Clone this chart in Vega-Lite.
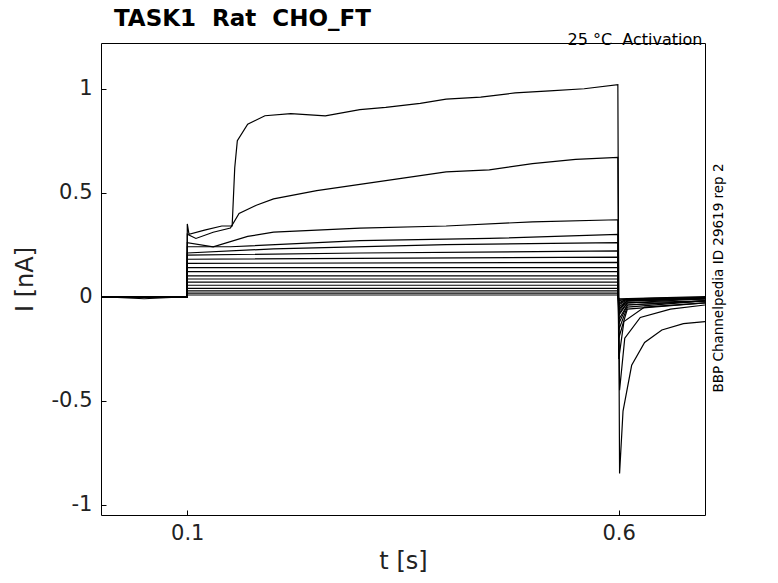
{
  "$schema": "https://vega.github.io/schema/vega-lite/v6.json",
  "width": 604,
  "height": 472,
  "autosize": "none",
  "padding": {"left": 101, "top": 43, "right": 73, "bottom": 68},
  "background": "white",
  "config": {"view": {"stroke": "black", "strokeWidth": 1}},
  "datasets": {
    "traces": [
      {"k": 1, "t": 0, "i": 0}, {"k": 1, "t": 0.05, "i": -0.01}, {"k": 1, "t": 0.0999, "i": 0}, {"k": 1, "t": 0.1, "i": 0.35}, {"k": 1, "t": 0.102, "i": 0.3}, {"k": 1, "t": 0.12, "i": 0.32}, {"k": 1, "t": 0.14, "i": 0.34}, {"k": 1, "t": 0.152, "i": 0.34}, {"k": 1, "t": 0.155, "i": 0.62}, {"k": 1, "t": 0.158, "i": 0.75}, {"k": 1, "t": 0.17, "i": 0.83}, {"k": 1, "t": 0.19, "i": 0.87}, {"k": 1, "t": 0.22, "i": 0.88}, {"k": 1, "t": 0.26, "i": 0.87}, {"k": 1, "t": 0.3, "i": 0.9}, {"k": 1, "t": 0.33, "i": 0.91}, {"k": 1, "t": 0.37, "i": 0.93}, {"k": 1, "t": 0.4, "i": 0.95}, {"k": 1, "t": 0.44, "i": 0.96}, {"k": 1, "t": 0.48, "i": 0.98}, {"k": 1, "t": 0.52, "i": 0.99}, {"k": 1, "t": 0.56, "i": 1.0}, {"k": 1, "t": 0.599, "i": 1.02}, {"k": 1, "t": 0.6, "i": 0.0}, {"k": 1, "t": 0.601, "i": -0.85}, {"k": 1, "t": 0.605, "i": -0.55}, {"k": 1, "t": 0.615, "i": -0.33}, {"k": 1, "t": 0.63, "i": -0.22}, {"k": 1, "t": 0.65, "i": -0.16}, {"k": 1, "t": 0.675, "i": -0.13}, {"k": 1, "t": 0.7, "i": -0.12},
      {"k": 2, "t": 0, "i": 0}, {"k": 2, "t": 0.0999, "i": 0}, {"k": 2, "t": 0.1, "i": 0.3}, {"k": 2, "t": 0.11, "i": 0.28}, {"k": 2, "t": 0.13, "i": 0.31}, {"k": 2, "t": 0.15, "i": 0.33}, {"k": 2, "t": 0.16, "i": 0.4}, {"k": 2, "t": 0.18, "i": 0.44}, {"k": 2, "t": 0.2, "i": 0.47}, {"k": 2, "t": 0.25, "i": 0.51}, {"k": 2, "t": 0.3, "i": 0.54}, {"k": 2, "t": 0.35, "i": 0.57}, {"k": 2, "t": 0.4, "i": 0.6}, {"k": 2, "t": 0.45, "i": 0.61}, {"k": 2, "t": 0.5, "i": 0.64}, {"k": 2, "t": 0.55, "i": 0.66}, {"k": 2, "t": 0.599, "i": 0.67}, {"k": 2, "t": 0.6, "i": 0}, {"k": 2, "t": 0.601, "i": -0.45}, {"k": 2, "t": 0.607, "i": -0.2}, {"k": 2, "t": 0.625, "i": -0.1}, {"k": 2, "t": 0.66, "i": -0.06}, {"k": 2, "t": 0.7, "i": -0.04},
      {"k": 3, "t": 0, "i": 0}, {"k": 3, "t": 0.0999, "i": 0}, {"k": 3, "t": 0.1, "i": 0.26}, {"k": 3, "t": 0.13, "i": 0.24}, {"k": 3, "t": 0.17, "i": 0.29}, {"k": 3, "t": 0.2, "i": 0.31}, {"k": 3, "t": 0.3, "i": 0.33}, {"k": 3, "t": 0.4, "i": 0.34}, {"k": 3, "t": 0.5, "i": 0.36}, {"k": 3, "t": 0.599, "i": 0.37}, {"k": 3, "t": 0.6, "i": -0.3}, {"k": 3, "t": 0.606, "i": -0.12}, {"k": 3, "t": 0.63, "i": -0.05}, {"k": 3, "t": 0.7, "i": -0.03},
      {"k": 4, "t": 0, "i": 0}, {"k": 4, "t": 0.0999, "i": 0}, {"k": 4, "t": 0.1, "i": 0.24}, {"k": 4, "t": 0.15, "i": 0.24}, {"k": 4, "t": 0.3, "i": 0.27}, {"k": 4, "t": 0.45, "i": 0.28}, {"k": 4, "t": 0.599, "i": 0.3}, {"k": 4, "t": 0.6, "i": -0.2}, {"k": 4, "t": 0.61, "i": -0.06}, {"k": 4, "t": 0.7, "i": -0.03},
      {"k": 5, "t": 0, "i": 0}, {"k": 5, "t": 0.0999, "i": 0}, {"k": 5, "t": 0.1, "i": 0.21}, {"k": 5, "t": 0.2, "i": 0.23}, {"k": 5, "t": 0.4, "i": 0.25}, {"k": 5, "t": 0.599, "i": 0.26}, {"k": 5, "t": 0.6, "i": -0.16}, {"k": 5, "t": 0.61, "i": -0.05}, {"k": 5, "t": 0.7, "i": -0.02},
      {"k": 6, "t": 0, "i": 0}, {"k": 6, "t": 0.0999, "i": 0}, {"k": 6, "t": 0.1, "i": 0.2}, {"k": 6, "t": 0.3, "i": 0.21}, {"k": 6, "t": 0.599, "i": 0.22}, {"k": 6, "t": 0.6, "i": -0.13}, {"k": 6, "t": 0.61, "i": -0.04}, {"k": 6, "t": 0.7, "i": -0.02},
      {"k": 7, "t": 0, "i": 0}, {"k": 7, "t": 0.0999, "i": 0}, {"k": 7, "t": 0.1, "i": 0.18}, {"k": 7, "t": 0.599, "i": 0.19}, {"k": 7, "t": 0.6, "i": -0.11}, {"k": 7, "t": 0.61, "i": -0.04}, {"k": 7, "t": 0.7, "i": -0.02},
      {"k": 8, "t": 0, "i": 0}, {"k": 8, "t": 0.0999, "i": 0}, {"k": 8, "t": 0.1, "i": 0.16}, {"k": 8, "t": 0.599, "i": 0.165}, {"k": 8, "t": 0.6, "i": -0.09}, {"k": 8, "t": 0.61, "i": -0.03}, {"k": 8, "t": 0.7, "i": -0.02},
      {"k": 9, "t": 0, "i": 0}, {"k": 9, "t": 0.0999, "i": 0}, {"k": 9, "t": 0.1, "i": 0.14}, {"k": 9, "t": 0.599, "i": 0.14}, {"k": 9, "t": 0.6, "i": -0.08}, {"k": 9, "t": 0.61, "i": -0.03}, {"k": 9, "t": 0.7, "i": -0.01},
      {"k": 10, "t": 0, "i": 0}, {"k": 10, "t": 0.0999, "i": 0}, {"k": 10, "t": 0.1, "i": 0.12}, {"k": 10, "t": 0.599, "i": 0.12}, {"k": 10, "t": 0.6, "i": -0.07}, {"k": 10, "t": 0.61, "i": -0.02}, {"k": 10, "t": 0.7, "i": -0.01},
      {"k": 11, "t": 0, "i": 0}, {"k": 11, "t": 0.0999, "i": 0}, {"k": 11, "t": 0.1, "i": 0.1}, {"k": 11, "t": 0.599, "i": 0.1}, {"k": 11, "t": 0.6, "i": -0.06}, {"k": 11, "t": 0.61, "i": -0.02}, {"k": 11, "t": 0.7, "i": -0.01},
      {"k": 12, "t": 0, "i": 0}, {"k": 12, "t": 0.0999, "i": 0}, {"k": 12, "t": 0.1, "i": 0.085}, {"k": 12, "t": 0.599, "i": 0.085}, {"k": 12, "t": 0.6, "i": -0.05}, {"k": 12, "t": 0.61, "i": -0.02}, {"k": 12, "t": 0.7, "i": -0.01},
      {"k": 13, "t": 0, "i": 0}, {"k": 13, "t": 0.0999, "i": 0}, {"k": 13, "t": 0.1, "i": 0.07}, {"k": 13, "t": 0.599, "i": 0.07}, {"k": 13, "t": 0.6, "i": -0.04}, {"k": 13, "t": 0.61, "i": -0.015}, {"k": 13, "t": 0.7, "i": -0.01},
      {"k": 14, "t": 0, "i": 0}, {"k": 14, "t": 0.0999, "i": 0}, {"k": 14, "t": 0.1, "i": 0.055}, {"k": 14, "t": 0.599, "i": 0.055}, {"k": 14, "t": 0.6, "i": -0.035}, {"k": 14, "t": 0.61, "i": -0.01}, {"k": 14, "t": 0.7, "i": -0.01},
      {"k": 15, "t": 0, "i": 0}, {"k": 15, "t": 0.0999, "i": 0}, {"k": 15, "t": 0.1, "i": 0.04}, {"k": 15, "t": 0.599, "i": 0.04}, {"k": 15, "t": 0.6, "i": -0.03}, {"k": 15, "t": 0.61, "i": -0.01}, {"k": 15, "t": 0.7, "i": -0.005},
      {"k": 16, "t": 0, "i": 0}, {"k": 16, "t": 0.0999, "i": 0}, {"k": 16, "t": 0.1, "i": 0.028}, {"k": 16, "t": 0.599, "i": 0.028}, {"k": 16, "t": 0.6, "i": -0.02}, {"k": 16, "t": 0.61, "i": -0.01}, {"k": 16, "t": 0.7, "i": -0.005},
      {"k": 17, "t": 0, "i": 0}, {"k": 17, "t": 0.0999, "i": 0}, {"k": 17, "t": 0.1, "i": 0.017}, {"k": 17, "t": 0.599, "i": 0.017}, {"k": 17, "t": 0.6, "i": -0.015}, {"k": 17, "t": 0.7, "i": -0.005},
      {"k": 18, "t": 0, "i": 0}, {"k": 18, "t": 0.0999, "i": 0}, {"k": 18, "t": 0.1, "i": 0.008}, {"k": 18, "t": 0.599, "i": 0.008}, {"k": 18, "t": 0.6, "i": -0.01}, {"k": 18, "t": 0.7, "i": 0}
    ],
    "heading": [
      {"t": 0.015, "i": 1.3, "txt": "TASK1\u00a0\u00a0Rat\u00a0\u00a0CHO_FT"}
    ],
    "topnote": [
      {"t": 0.697, "i": 1.235, "txt": "25\u00a0°C\u00a0\u00a0Activation"}
    ],
    "sidenote": [
      {"t": 0.716, "i": 0.09, "txt": "BBP Channelpedia ID 29619 rep 2"}
    ]
  },
  "layer": [
    {
      "data": {"name": "traces"},
      "mark": {"type": "line", "color": "black", "strokeWidth": 1.2, "clip": true},
      "encoding": {
        "x": {"field": "t", "type": "quantitative", "scale": {"domain": [0, 0.7], "nice": false},
          "axis": {"values": [0.1, 0.6], "format": "~g", "grid": false, "tickSize": -5, "tickColor": "black", "domain": false, "labelFontSize": 21, "labelFont": "DejaVu Sans", "labelColor": "#222", "labelPadding": 12, "title": "t [s]", "titleFontSize": 24, "titleFont": "DejaVu Sans", "titleFontWeight": "normal", "titleColor": "#222", "titlePadding": 6}},
        "y": {"field": "i", "type": "quantitative", "scale": {"domain": [-1.05, 1.22], "nice": false},
          "axis": {"values": [-1, -0.5, 0, 0.5, 1], "labelExpr": "replace(format(datum.value, '~g'), '\u2212', '-')", "grid": false, "tickSize": -5, "tickColor": "black", "domain": false, "labelFontSize": 21, "labelFont": "DejaVu Sans", "labelColor": "#222", "labelPadding": 14, "title": "I [nA]", "titleFontSize": 24, "titleFont": "DejaVu Sans", "titleFontWeight": "normal", "titleColor": "#222", "titlePadding": 14}},
        "detail": {"field": "k", "type": "nominal"}
      }
    },
    {
      "data": {"name": "heading"},
      "mark": {"type": "text", "font": "DejaVu Sans", "fontSize": 23, "fontWeight": "bold", "align": "left", "baseline": "alphabetic", "color": "black", "clip": false},
      "encoding": {
        "x": {"field": "t", "type": "quantitative"},
        "y": {"field": "i", "type": "quantitative"},
        "text": {"field": "txt"}
      }
    },
    {
      "data": {"name": "topnote"},
      "mark": {"type": "text", "font": "DejaVu Sans", "fontSize": 16, "align": "right", "baseline": "middle", "color": "black", "clip": false},
      "encoding": {
        "x": {"field": "t", "type": "quantitative"},
        "y": {"field": "i", "type": "quantitative"},
        "text": {"field": "txt"}
      }
    },
    {
      "data": {"name": "sidenote"},
      "mark": {"type": "text", "font": "DejaVu Sans", "fontSize": 13.5, "align": "center", "baseline": "middle", "angle": 270, "color": "black", "clip": false},
      "encoding": {
        "x": {"field": "t", "type": "quantitative"},
        "y": {"field": "i", "type": "quantitative"},
        "text": {"field": "txt"}
      }
    }
  ]
}
